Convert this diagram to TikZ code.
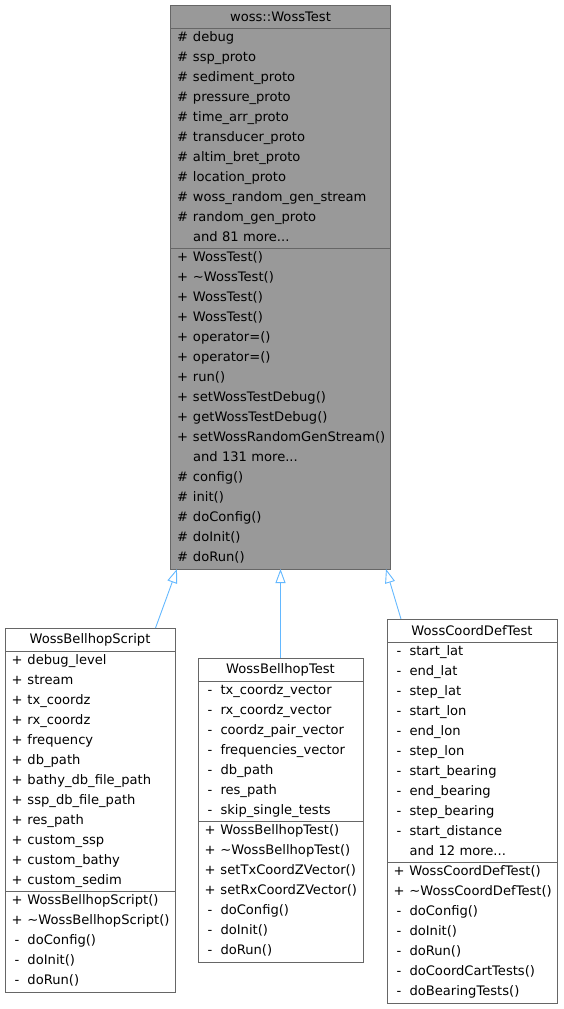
\documentclass[tikz,border=0pt]{standalone}
\usepackage{fontspec}
\setmainfont{DejaVu Sans}
\usetikzlibrary{positioning, arrows.meta}
\definecolor{doxyborder}{HTML}{666666}
\definecolor{doxybase}{HTML}{999999}
\definecolor{doxyedge}{HTML}{63B8FF}
\newcommand{\doxyfont}{\fontsize{13.1}{20}\selectfont}
\newcommand{\mem}[2]{\rule[-7pt]{0pt}{20pt}\makebox[16pt][c]{#1}\hspace{2.5pt}#2}
\tikzstyle{arrow} = [doxyedge, line width=0.9pt, -{Triangle[open, fill=white, length=14pt, width=10pt]}]
\tikzstyle{ctitle} = [rectangle, draw=doxyborder, line width=0.8pt, inner sep=0pt, outer sep=0pt, minimum height=23pt, anchor=north west, font=\doxyfont]
\tikzstyle{cpart} = [rectangle, draw=doxyborder, line width=0.8pt, inner xsep=4pt, inner ysep=0pt, outer sep=0pt, align=left, font=\doxyfont]

\begin{document}
\begin{tikzpicture}[x=1pt, y=-1pt]
    \useasboundingbox (0,0) rectangle (563,1009);
    % base class
    \node (baseTitle) [ctitle, fill=doxybase, minimum width=220pt] at (170.5,5) {woss::WossTest};
    \node (baseAttr) [cpart, fill=doxybase, text width=212pt, minimum height=220.5pt, below=0pt of baseTitle] {\mem{\#}{debug}\\ \mem{\#}{ssp\_proto}\\ \mem{\#}{sediment\_proto}\\ \mem{\#}{pressure\_proto}\\ \mem{\#}{time\_arr\_proto}\\ \mem{\#}{transducer\_proto}\\ \mem{\#}{altim\_bret\_proto}\\ \mem{\#}{location\_proto}\\ \mem{\#}{woss\_random\_gen\_stream}\\ \mem{\#}{random\_gen\_proto}\\ \mem{}{and 81 more...}};
    \node (baseMeth) [cpart, fill=doxybase, text width=212pt, minimum height=320.5pt, below=0pt of baseAttr] {\mem{+}{WossTest()}\\ \mem{+}{\textasciitilde WossTest()}\\ \mem{+}{WossTest()}\\ \mem{+}{WossTest()}\\ \mem{+}{operator=()}\\ \mem{+}{operator=()}\\ \mem{+}{run()}\\ \mem{+}{setWossTestDebug()}\\ \mem{+}{getWossTestDebug()}\\ \mem{+}{setWossRandomGenStream()}\\ \mem{}{and 131 more...}\\ \mem{\#}{config()}\\ \mem{\#}{init()}\\ \mem{\#}{doConfig()}\\ \mem{\#}{doInit()}\\ \mem{\#}{doRun()}};

    % derived classes
    \node (scriptTitle) [ctitle, fill=white, minimum width=170pt] at (5,628) {WossBellhopScript};
    \node (scriptAttr) [cpart, text width=162pt, minimum height=240.5pt, below=0pt of scriptTitle] {\mem{+}{debug\_level}\\ \mem{+}{stream}\\ \mem{+}{tx\_coordz}\\ \mem{+}{rx\_coordz}\\ \mem{+}{frequency}\\ \mem{+}{db\_path}\\ \mem{+}{bathy\_db\_file\_path}\\ \mem{+}{ssp\_db\_file\_path}\\ \mem{+}{res\_path}\\ \mem{+}{custom\_ssp}\\ \mem{+}{custom\_bathy}\\ \mem{+}{custom\_sedim}};
    \node (scriptMeth) [cpart, text width=162pt, minimum height=100.5pt, below=0pt of scriptAttr] {\mem{+}{WossBellhopScript()}\\ \mem{+}{\textasciitilde WossBellhopScript()}\\ \mem{-}{doConfig()}\\ \mem{-}{doInit()}\\ \mem{-}{doRun()}};

    \node (testTitle) [ctitle, fill=white, minimum width=165pt] at (198,658) {WossBellhopTest};
    \node (testAttr) [cpart, text width=157pt, minimum height=140.5pt, below=0pt of testTitle] {\mem{-}{tx\_coordz\_vector}\\ \mem{-}{rx\_coordz\_vector}\\ \mem{-}{coordz\_pair\_vector}\\ \mem{-}{frequencies\_vector}\\ \mem{-}{db\_path}\\ \mem{-}{res\_path}\\ \mem{-}{skip\_single\_tests}};
    \node (testMeth) [cpart, text width=157pt, minimum height=140.5pt, below=0pt of testAttr] {\mem{+}{WossBellhopTest()}\\ \mem{+}{\textasciitilde WossBellhopTest()}\\ \mem{+}{setTxCoordZVector()}\\ \mem{+}{setRxCoordZVector()}\\ \mem{-}{doConfig()}\\ \mem{-}{doInit()}\\ \mem{-}{doRun()}};

    \node (coordTitle) [ctitle, fill=white, minimum width=170pt] at (387,619) {WossCoordDefTest};
    \node (coordAttr) [cpart, text width=162pt, minimum height=220.5pt, below=0pt of coordTitle] {\mem{-}{start\_lat}\\ \mem{-}{end\_lat}\\ \mem{-}{step\_lat}\\ \mem{-}{start\_lon}\\ \mem{-}{end\_lon}\\ \mem{-}{step\_lon}\\ \mem{-}{start\_bearing}\\ \mem{-}{end\_bearing}\\ \mem{-}{step\_bearing}\\ \mem{-}{start\_distance}\\ \mem{}{and 12 more...}};
    \node (coordMeth) [cpart, text width=162pt, minimum height=140.5pt, below=0pt of coordAttr] {\mem{+}{WossCoordDefTest()}\\ \mem{+}{\textasciitilde WossCoordDefTest()}\\ \mem{-}{doConfig()}\\ \mem{-}{doInit()}\\ \mem{-}{doRun()}\\ \mem{-}{doCoordCartTests()}\\ \mem{-}{doBearingTests()}};

    % inheritance
    \draw [arrow] ([xshift=-19.5pt]scriptTitle.north east) -- ([xshift=6.5pt]baseMeth.south west);
    \draw [arrow] (testTitle) -- (baseMeth);
    \draw [arrow] ([xshift=14pt]coordTitle.north west) -- ([xshift=-4.5pt]baseMeth.south east);
\end{tikzpicture}
\end{document}
